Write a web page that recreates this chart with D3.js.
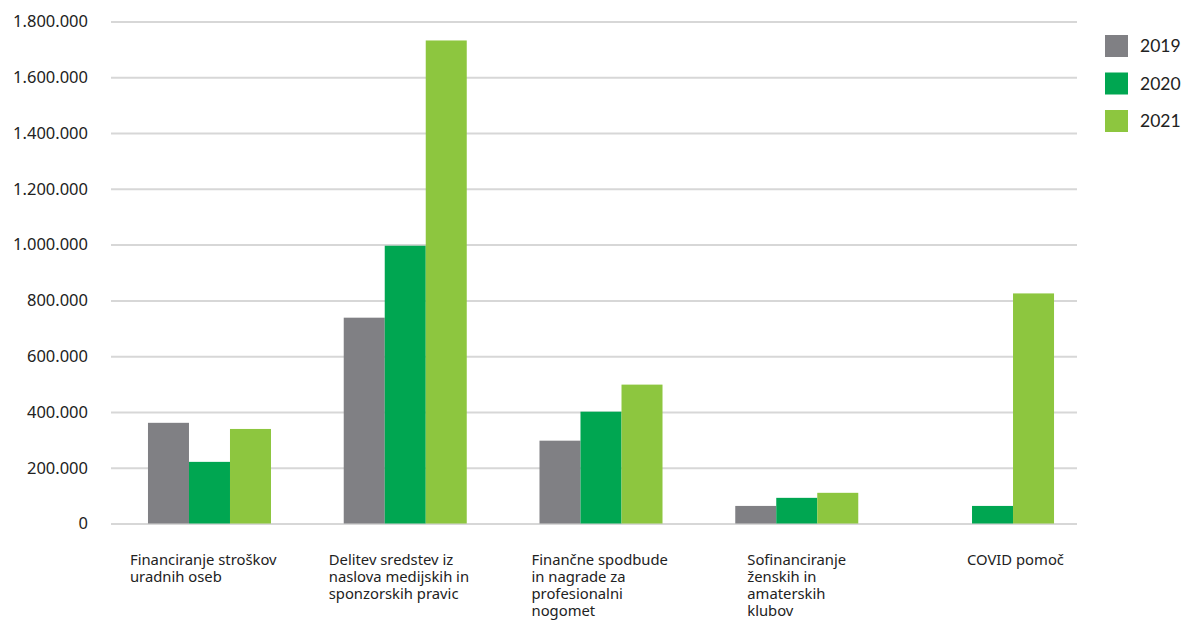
<!DOCTYPE html>
<html>
<head>
<meta charset="utf-8">
<script src="https://cdn.jsdelivr.net/npm/d3@7"></script>
<style>
  html, body { margin: 0; padding: 0; background: #fff; }
  svg { display: block; }
</style>
</head>
<body>
<svg id="chart" width="1187" height="621"></svg>
<script>
// ---- data ----
const categories = [
  "Financiranje stroškov uradnih oseb",
  "Delitev sredstev iz naslova medijskih in sponzorskih pravic",
  "Finančne spodbude in nagrade za profesionalni nogomet",
  "Sofinanciranje ženskih in amaterskih klubov",
  "COVID pomoč"
];
const categoryLines = [
  ["Financiranje stroškov", "uradnih oseb"],
  ["Delitev sredstev iz", "naslova medijskih in", "sponzorskih pravic"],
  ["Finančne spodbude", "in nagrade za", "profesionalni", "nogomet"],
  ["Sofinanciranje", "ženskih in", "amaterskih", "klubov"],
  ["COVID pomoč"]
];
const seriesNames = ["2019", "2020", "2021"];
const values2019 = [361000, 738000, 297000, 63000, null];
const values2020 = [221000, 996000, 401000, 92000, 63000];
const values2021 = [339000, 1732000, 498000, 110000, 825000];
const yTicks = [0, 200000, 400000, 600000, 800000, 1000000, 1200000, 1400000, 1600000, 1800000];

// ---- layout / style ----
const colors = ["#808084", "#00a651", "#8dc63f"];
const labelOffsets = [-18, -15, -8, 12, 36]; // label left edge relative to group left
const gridLeft = 111, gridRight = 1077;

const svg = d3.select("#chart");
const seriesValues = [values2019, values2020, values2021];

const y = d3.scaleLinear().domain([0, 1800000]).range([523.5, 21.5]);
const x0 = d3.scaleBand().domain(categories).range([111.6, 1090.4])
  .paddingInner(0.3716).paddingOuter(0.1858);
const x1 = d3.scaleBand().domain(seriesNames).range([0, x0.bandwidth()]);

const locale = d3.formatLocale({decimal: ",", thousands: ".", grouping: [3], currency: ["", "€"]});
const fmt = locale.format(",.0f");

// y axis with gridlines
const yAxis = d3.axisLeft(y).tickValues(yTicks).tickFormat(fmt)
  .tickSize(-(gridRight - gridLeft)).tickPadding(23);
const gAxis = svg.append("g").attr("transform", `translate(${gridLeft},0)`).call(yAxis);
gAxis.select(".domain").remove();
gAxis.selectAll(".tick line").attr("stroke", "#d7d7d7").attr("stroke-width", 2);
gAxis.selectAll(".tick text")
  .attr("fill", "#222")
  .style("font-family", "'Noto Sans', sans-serif")
  .style("font-size", "16.5px");

// bars
const rows = categories.map((c, i) => ({cat: c, vals: seriesNames.map((s, j) => ({s, v: seriesValues[j][i], j}))}));
const groups = svg.append("g").selectAll("g").data(rows).join("g")
  .attr("transform", d => `translate(${x0(d.cat)},0)`);
groups.selectAll("rect").data(d => d.vals.filter(e => e.v != null)).join("rect")
  .attr("x", d => x1(d.s))
  .attr("width", x1.bandwidth())
  .attr("y", d => y(d.v))
  .attr("height", d => y(0) - y(d.v))
  .attr("fill", d => colors[d.j]);

// category labels (one text element per line)
const labG = svg.append("g").selectAll("g").data(categories).join("g")
  .attr("transform", (d, i) => `translate(${x0(d) + labelOffsets[i]},565)`);
labG.selectAll("text").data((d, i) => categoryLines[i]).join("text")
  .attr("x", 0)
  .attr("y", (d, k) => k * 17)
  .attr("fill", "#222")
  .style("font-family", "'Noto Sans', sans-serif")
  .style("font-size", "14.8px")
  .text(d => d);

// legend
const leg = svg.append("g").attr("transform", "translate(1105,35)");
const li = leg.selectAll("g").data(seriesNames).join("g")
  .attr("transform", (d, i) => `translate(0,${i * 37.5})`);
li.append("rect").attr("width", 23).attr("height", 22).attr("fill", (d, i) => colors[i]);
li.append("text").attr("x", 35).attr("y", 11).attr("dy", "0.36em")
  .attr("fill", "#222")
  .style("font-family", "Lato, sans-serif")
  .style("font-size", "17.5px")
  .text(d => d);
</script>
</body>
</html>
